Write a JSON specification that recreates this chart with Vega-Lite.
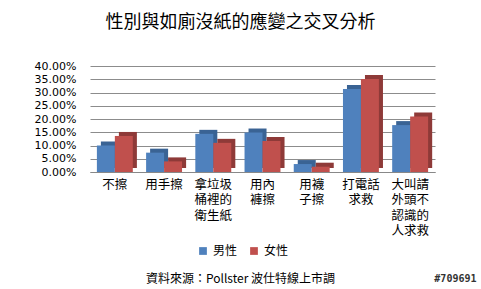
{
  "$schema": "https://vega.github.io/schema/vega-lite/v6.json",
  "autosize": "none",
  "width": 345,
  "height": 106,
  "padding": {"left": 90, "top": 66, "right": 46, "bottom": 117},
  "background": "white",
  "title": {
    "text": "性別與如廁沒紙的應變之交叉分析",
    "font": "Noto Sans CJK TC",
    "fontSize": 18,
    "fontWeight": "normal",
    "color": "#000000",
    "anchor": "middle",
    "frame": "group",
    "dx": -22,
    "offset": 28
  },
  "data": {
    "values": [
      {"item": "不擦", "gender": "男性", "pct": 0.100},
      {"item": "不擦", "gender": "女性", "pct": 0.136},
      {"item": "用手擦", "gender": "男性", "pct": 0.073},
      {"item": "用手擦", "gender": "女性", "pct": 0.040},
      {"item": "拿垃圾桶裡的衛生紙", "gender": "男性", "pct": 0.144},
      {"item": "拿垃圾桶裡的衛生紙", "gender": "女性", "pct": 0.110},
      {"item": "用內褲擦", "gender": "男性", "pct": 0.149},
      {"item": "用內褲擦", "gender": "女性", "pct": 0.117},
      {"item": "用襪子擦", "gender": "男性", "pct": 0.030},
      {"item": "用襪子擦", "gender": "女性", "pct": 0.020},
      {"item": "打電話求救", "gender": "男性", "pct": 0.313},
      {"item": "打電話求救", "gender": "女性", "pct": 0.351},
      {"item": "大叫請外頭不認識的人求救", "gender": "男性", "pct": 0.177},
      {"item": "大叫請外頭不認識的人求救", "gender": "女性", "pct": 0.209}
    ]
  },
  "encoding": {
    "x": {
      "field": "item",
      "type": "nominal",
      "sort": null,
      "scale": {"paddingInner": 0.27, "paddingOuter": 0.14},
      "axis": {
        "title": "資料來源：Pollster 波仕特線上市調",
        "titleX": 150,
        "titleY": 106,
        "titleBaseline": "middle",
        "titleFont": "Noto Sans CJK TC",
        "titleFontSize": 12,
        "titleFontWeight": "normal",
        "titleColor": "#000000",
        "labelAngle": 0,
        "labelFont": "Noto Sans CJK TC",
        "labelFontSize": 12.5,
        "labelColor": "#000000",
        "labelLineHeight": 15.5,
        "labelPadding": 6,
        "labelBaseline": "top",
        "labelExpr": "length(datum.label) == 4 ? [substring(datum.label,0,2), substring(datum.label,2,4)] : length(datum.label) <= 3 ? datum.label : length(datum.label) <= 6 ? [substring(datum.label,0,3), substring(datum.label,3,6)] : length(datum.label) <= 9 ? [substring(datum.label,0,3), substring(datum.label,3,6), substring(datum.label,6,9)] : [substring(datum.label,0,3), substring(datum.label,3,6), substring(datum.label,6,9), substring(datum.label,9,12)]",
        "ticks": false,
        "domainColor": "#888888",
        "grid": false
      }
    },
    "y": {
      "field": "pct",
      "type": "quantitative",
      "scale": {"domain": [0, 0.4], "nice": false},
      "axis": {
        "values": [0, 0.05, 0.1, 0.15, 0.2, 0.25, 0.3, 0.35, 0.4],
        "format": ".2%",
        "labelFont": "DejaVu Sans",
        "labelFontSize": 11,
        "labelColor": "#000000",
        "labelPadding": 14,
        "ticks": false,
        "domain": false,
        "gridColor": "#8c8c8c",
        "title": "#709691",
        "titleAngle": 0,
        "titleX": 386,
        "titleY": 212,
        "titleAlign": "right",
        "titleBaseline": "middle",
        "titleFont": "DejaVu Sans Mono",
        "titleFontSize": 10,
        "titleFontWeight": "bold",
        "titleColor": "#333333"
      }
    }
  },
  "layer": [
    {
      "mark": {"type": "bar", "yOffset": -4},
      "encoding": {
        "xOffset": {
          "field": "gender",
          "type": "nominal",
          "sort": ["男性", "女性"],
          "scale": {"range": [4, 40]}
        },
        "fill": {
          "field": "gender",
          "type": "nominal",
          "sort": ["男性", "女性"],
          "scale": {"domain": ["男性", "女性"], "range": ["#3A6394", "#8E3A38"]},
          "legend": null
        }
      }
    },
    {
      "mark": {"type": "bar"},
      "encoding": {
        "xOffset": {
          "field": "gender",
          "type": "nominal",
          "sort": ["男性", "女性"]
        },
        "color": {
          "field": "gender",
          "type": "nominal",
          "sort": ["男性", "女性"],
          "scale": {"domain": ["男性", "女性"], "range": ["#4F81BD", "#C0504D"]},
          "legend": {
            "title": null,
            "orient": "none",
            "legendX": 107,
            "legendY": 179,
            "direction": "horizontal",
            "symbolType": "square",
            "symbolSize": 60,
            "labelFont": "Noto Sans CJK TC",
            "labelFontSize": 12,
            "labelColor": "#000000",
            "columnPadding": 10
          }
        }
      }
    }
  ],
  "resolve": {"scale": {"fill": "independent", "xOffset": "independent"}},
  "config": {"view": {"stroke": null}}
}
